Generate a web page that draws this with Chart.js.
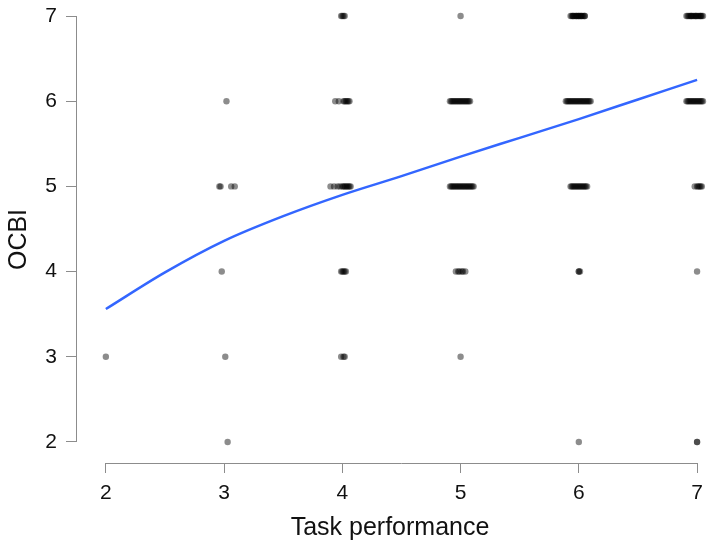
<!DOCTYPE html>
<html>
<head>
<meta charset="utf-8">
<script src="https://cdn.jsdelivr.net/npm/chart.js@4.4.1/dist/chart.umd.min.js"></script>
<style>
  html, body { margin: 0; padding: 0; background: #fff; }
  canvas { display: block; }
</style>
</head>
<body>
<canvas id="grafico" width="707" height="545"></canvas>
<script>
// tick values on both axes
const ticksTarea = [2, 3, 4, 5, 6, 7];
const ticksOcbi = [2, 3, 4, 5, 6, 7];

// jittered task performance values, one array per OCBI level
const tareaOcbi7 = [3.99, 4.00, 4.01, 4.02, 5.00,
  5.93, 5.94, 5.95, 5.95, 5.96, 5.97, 5.98, 5.98, 5.99, 6.00, 6.00, 6.01, 6.02, 6.02, 6.03, 6.04, 6.05, 6.05,
  6.91, 6.92, 6.93, 6.94, 6.95, 6.95, 6.96, 6.97, 6.98, 6.99, 6.99, 7.00, 7.01, 7.02, 7.03, 7.03, 7.04, 7.05];
const tareaOcbi6 = [3.02, 3.94, 3.97, 4.01, 4.02, 4.03, 4.04, 4.05, 4.06,
  4.91, 4.92, 4.93, 4.94, 4.95, 4.96, 4.97, 4.98, 4.99, 5.00, 5.01, 5.02, 5.03, 5.04, 5.05, 5.06, 5.07, 5.08,
  5.89, 5.90, 5.91, 5.92, 5.93, 5.94, 5.95, 5.96, 5.97, 5.98, 5.99, 6.00, 6.01, 6.02, 6.03, 6.04, 6.05, 6.06,
  6.07, 6.08, 6.09, 6.10, 6.91, 6.92, 6.93, 6.94, 6.95, 6.96, 6.97, 6.98, 6.99, 7.00, 7.01, 7.02, 7.03, 7.04, 7.05];
const tareaOcbi5 = [2.96, 2.97, 3.06, 3.09, 3.90, 3.93, 3.96, 3.98, 4.00, 4.01, 4.02, 4.03, 4.04, 4.05, 4.06, 4.07,
  4.91, 4.92, 4.93, 4.94, 4.95, 4.96, 4.97, 4.98, 4.99, 5.00, 5.01, 5.02, 5.03, 5.04, 5.05, 5.06, 5.07, 5.08,
  5.09, 5.10, 5.11, 5.93, 5.94, 5.95, 5.96, 5.97, 5.98, 5.99, 6.00, 6.01, 6.02, 6.03, 6.04, 6.05, 6.06, 6.07,
  6.98, 7.00, 7.01, 7.02, 7.03, 7.04];
const tareaOcbi4 = [2.98, 3.99, 4.00, 4.01, 4.02, 4.03, 4.96, 4.98, 4.99, 5.01, 5.02, 5.04, 6.00, 6.00, 6.01, 7.00];
const tareaOcbi3 = [2.00, 3.01, 3.99, 4.01, 4.02, 5.00];
const tareaOcbi2 = [3.03, 6.00, 7.00, 7.00];

// smooth fit line
const ajusteX = [2, 2.5, 3, 3.5, 4, 4.5, 5, 5.5, 6, 6.5, 7];
const ajusteY = [3.56, 3.99, 4.36, 4.65, 4.90, 5.12, 5.35, 5.57, 5.79, 6.02, 6.25];

const niveles = [
  [7, tareaOcbi7], [6, tareaOcbi6], [5, tareaOcbi5],
  [4, tareaOcbi4], [3, tareaOcbi3], [2, tareaOcbi2]
];
const puntos = [];
niveles.forEach(([y, xs]) => xs.forEach((x) => puntos.push({ x: x, y: y })));
const linea = ajusteX.map((x, i) => ({ x: x, y: ajusteY[i] }));

// R style axis lines that only span the ticks
const ejesR = {
  id: "ejesR",
  afterDraw(chart) {
    const ctx = chart.ctx;
    const sx = chart.scales.x;
    const sy = chart.scales.y;
    ctx.save();
    ctx.strokeStyle = "#8c8c8c";
    ctx.lineWidth = 1;
    ctx.beginPath();
    ctx.moveTo(sx.getPixelForValue(2), sx.top + 0.5);
    ctx.lineTo(sx.getPixelForValue(7), sx.top + 0.5);
    ctx.moveTo(sy.right - 0.5, sy.getPixelForValue(2));
    ctx.lineTo(sy.right - 0.5, sy.getPixelForValue(7));
    ctx.stroke();
    ctx.restore();
  },
};

const fuente = "'Liberation Sans', Arial, sans-serif";

new Chart(document.querySelector("#grafico"), {
  type: "scatter",
  data: {
    datasets: [
      {
        label: "OCBI",
        data: puntos,
        backgroundColor: "rgba(0,0,0,0.45)",
        borderWidth: 0,
        pointRadius: 3.2,
        clip: false,
        order: 2,
      },
      {
        type: "line",
        label: "Ajuste",
        data: linea,
        borderColor: "#3366ff",
        borderWidth: 2.5,
        pointRadius: 0,
        cubicInterpolationMode: "monotone",
        fill: false,
        clip: false,
        order: 1,
      },
    ],
  },
  options: {
    responsive: false,
    animation: false,
    devicePixelRatio: 1,
    layout: { padding: { top: 16, left: 0, right: 0, bottom: 0 } },
    plugins: { legend: { display: false }, tooltip: { enabled: false } },
    scales: {
      x: {
        type: "linear",
        min: 1.756,
        max: 7.05,
        afterBuildTicks: (s) => { s.ticks = ticksTarea.map((v) => ({ value: v })); },
        afterFit: (s) => { s.height = 82; s.paddingLeft = 0; s.paddingRight = 0; },
        border: { display: false },
        grid: { drawOnChartArea: false, drawTicks: true, tickLength: 10, color: "#8c8c8c" },
        ticks: { color: "#111", font: { family: fuente, size: 21 }, padding: 8, maxRotation: 0 },
        title: { display: true, text: "Task performance", color: "#111",
          font: { family: fuente, size: 25 }, padding: { top: 0, bottom: 2 } },
      },
      y: {
        type: "linear",
        min: 1.753,
        max: 7,
        afterBuildTicks: (s) => { s.ticks = ticksOcbi.map((v) => ({ value: v })); },
        afterFit: (s) => { s.width = 77; s.paddingTop = 0; s.paddingBottom = 0; },
        border: { display: false },
        grid: { drawOnChartArea: false, drawTicks: true, tickLength: 11, color: "#8c8c8c" },
        ticks: { color: "#111", font: { family: fuente, size: 21 }, padding: 9 },
        title: { display: true, text: "OCBI", color: "#111",
          font: { family: fuente, size: 25 }, padding: { top: 4, bottom: 0 } },
      },
    },
  },
  plugins: [ejesR],
});
</script>
</body>
</html>
